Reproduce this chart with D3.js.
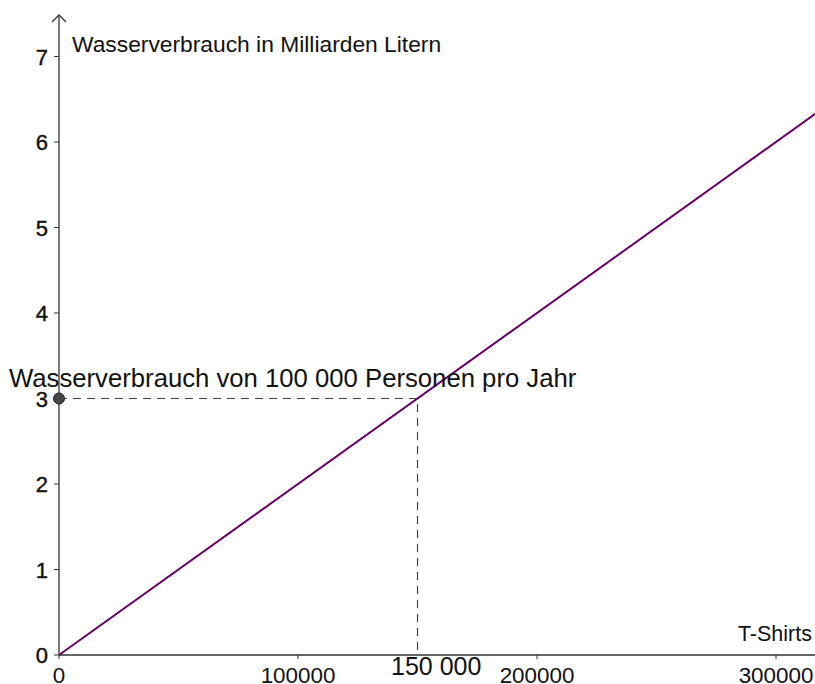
<!DOCTYPE html>
<html><head><meta charset="utf-8">
<script src="https://cdn.jsdelivr.net/npm/d3@7"></script>
<style>body{margin:0;background:#fff}svg{display:block}</style>
</head><body>
<svg id="c" width="815" height="684"></svg>
<script>
const xTicks = [0, 100000, 200000, 300000];
const yTicks = [0, 1, 2, 3, 4, 5, 6, 7];
const lineData = [[0, 0], [320000, 6.4]];
const markPoint = [150000, 3];
const yAxisLabel = "Wasserverbrauch in Milliarden Litern";
const xAxisLabel = "T-Shirts";
const pointLabel = "Wasserverbrauch von 100 000 Personen pro Jahr";
const xMarkLabel = "150 000";

const svg = d3.select("#c");
const font = "Liberation Sans, Arial, Helvetica, sans-serif";
const x = d3.scaleLinear().domain([0, 100000]).range([59, 298]);
const y = d3.scaleLinear().domain([0, 1]).range([655, 569.5]);
const axisColor = "#333";

svg.append("line").attr("x1", x(0)).attr("x2", 815).attr("y1", y(0)).attr("y2", y(0))
  .attr("stroke", axisColor).attr("stroke-width", 1.3);
svg.append("line").attr("x1", x(0)).attr("x2", x(0)).attr("y1", y(0)).attr("y2", 15)
  .attr("stroke", axisColor).attr("stroke-width", 1.3);
svg.append("path").attr("d", `M${x(0)-7},${22} L${x(0)},${15} L${x(0)+7},${22}`)
  .attr("fill", "none").attr("stroke", axisColor).attr("stroke-width", 1.3);

yTicks.forEach(t => {
  svg.append("line").attr("x1", x(0) - 5).attr("x2", x(0)).attr("y1", y(t)).attr("y2", y(t))
    .attr("stroke", axisColor).attr("stroke-width", 1);
  svg.append("text").attr("x", x(0) - 11).attr("y", y(t) + 8).attr("text-anchor", "end")
    .attr("font-family", font).attr("font-size", 22).attr("fill", "#111")
    .attr("stroke", "#111").attr("stroke-width", 0.4).text(t);
});
xTicks.forEach(t => {
  svg.append("line").attr("x1", x(t)).attr("x2", x(t)).attr("y1", y(0)).attr("y2", y(0) + 4)
    .attr("stroke", axisColor).attr("stroke-width", 1);
  svg.append("text").attr("x", x(t)).attr("y", y(0) + 28).attr("text-anchor", "middle")
    .attr("font-family", font).attr("font-size", 22.4).attr("fill", "#111").text(t);
});

svg.append("path").attr("d", `M${x(0)},${y(markPoint[1])} H${x(markPoint[0])} V${y(0)}`)
  .attr("fill", "none").attr("stroke", "#444").attr("stroke-width", 1.2).attr("stroke-dasharray", "8,6");

svg.append("path").datum(lineData)
  .attr("d", d3.line().x(d => x(d[0])).y(d => y(d[1])))
  .attr("stroke", "#660066").attr("stroke-width", 2).attr("fill", "none");

svg.append("circle").attr("cx", x(0)).attr("cy", y(markPoint[1])).attr("r", 5.5)
  .attr("fill", "#444").attr("stroke", "#222").attr("stroke-width", 1);

svg.append("text").attr("x", 72).attr("y", 52).attr("font-family", font).attr("font-size", 22.8)
  .attr("fill", "#111").text(yAxisLabel);
svg.append("text").attr("x", 812).attr("y", 641).attr("text-anchor", "end").attr("font-family", font)
  .attr("font-size", 21.5).attr("fill", "#111").text(xAxisLabel);
svg.append("text").attr("x", 9).attr("y", 387).attr("font-family", font).attr("font-size", 25.7)
  .attr("fill", "#111").text(pointLabel);
svg.append("text").attr("x", 391).attr("y", 675).attr("font-family", font).attr("font-size", 25)
  .attr("fill", "#111").text(xMarkLabel);
</script>
</body></html>
